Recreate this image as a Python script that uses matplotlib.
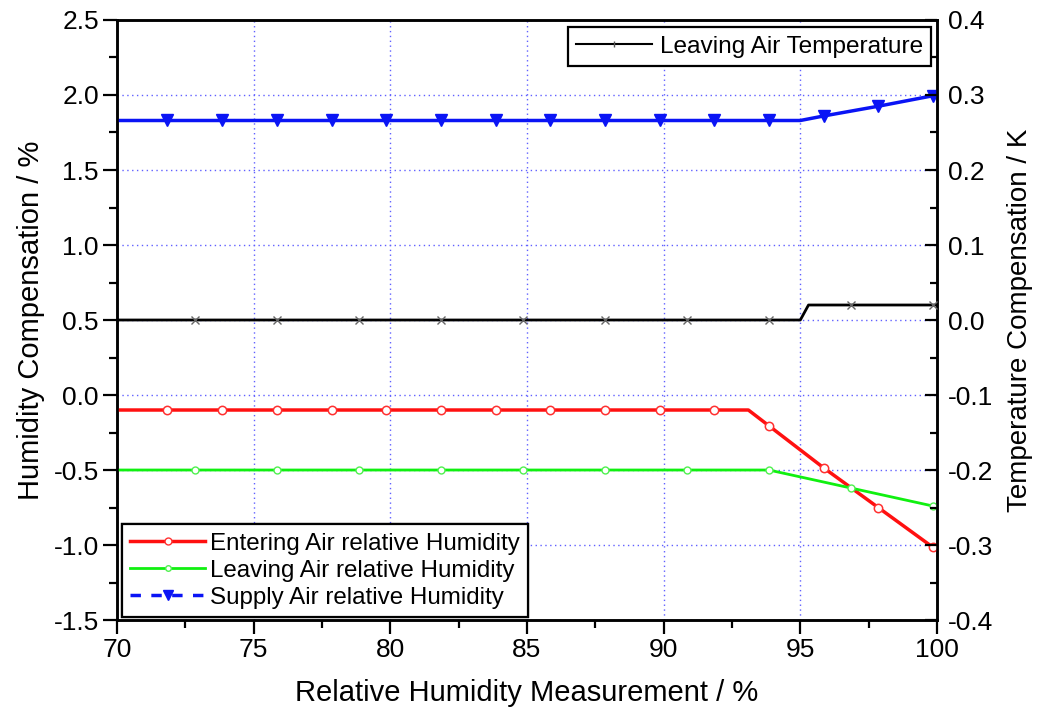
import matplotlib.pyplot as plt
from matplotlib.lines import Line2D
from matplotlib.ticker import MultipleLocator

plt.rcParams['font.family'] = ['Liberation Sans', 'DejaVu Sans']

# Supply air RH compensation (%), markers every 2 %
supply_x = [70, 71.85, 73.85, 75.85, 77.85, 79.85, 81.85, 83.85, 85.85, 87.85,
            89.85, 91.85, 93.85, 95.0, 95.85, 97.85, 99.85, 100]
supply_y = [1.83, 1.83, 1.83, 1.83, 1.83, 1.83, 1.83, 1.83, 1.83, 1.83,
            1.83, 1.83, 1.83, 1.83, 1.86, 1.925, 1.995, 2.0]
supply_marks = [1, 2, 3, 4, 5, 6, 7, 8, 9, 10, 11, 12, 14, 15, 16]

# Entering air RH compensation (%)
entering_x = [70, 71.85, 73.85, 75.85, 77.85, 79.85, 81.85, 83.85, 85.85, 87.85,
              89.85, 91.85, 93.1, 93.85, 95.85, 97.85, 99.85, 100]
entering_y = [-0.1, -0.1, -0.1, -0.1, -0.1, -0.1, -0.1, -0.1, -0.1, -0.1,
              -0.1, -0.1, -0.1, -0.205, -0.485, -0.75, -1.015, -1.03]
entering_marks = [1, 2, 3, 4, 5, 6, 7, 8, 9, 10, 11, 13, 14, 15, 16]

# Leaving air RH compensation (%), markers every 3 %
leaving_x = [70, 72.85, 75.85, 78.85, 81.85, 84.85, 87.85, 90.85, 93.85,
             96.85, 99.85, 100]
leaving_y = [-0.5, -0.5, -0.5, -0.5, -0.5, -0.5, -0.5, -0.5, -0.5,
             -0.62, -0.74, -0.745]
leaving_marks = [1, 2, 3, 4, 5, 6, 7, 8, 9, 10]

# Leaving air temperature compensation (K)
temp_x = [70, 72.85, 75.85, 78.85, 81.85, 84.85, 87.85, 90.85, 93.85,
          95.0, 95.3, 96.85, 99.85, 100]
temp_y = [0.0, 0.0, 0.0, 0.0, 0.0, 0.0, 0.0, 0.0, 0.0,
          0.0, 0.02, 0.02, 0.02, 0.02]
temp_marks = [1, 2, 3, 4, 5, 6, 7, 8, 11, 12]

fig = plt.figure(figsize=(10.44, 7.09), dpi=100)
ax = fig.add_axes([0.112, 0.1255, 0.7855, 0.8463])
ax2 = ax.twinx()

ax.set_xlim(70, 100)
ax.set_ylim(-1.5, 2.5)
ax2.set_ylim(-0.4, 0.4)

ax.xaxis.set_major_locator(MultipleLocator(5))
ax.xaxis.set_minor_locator(MultipleLocator(2.5))
ax.yaxis.set_major_locator(MultipleLocator(0.5))
ax.yaxis.set_minor_locator(MultipleLocator(0.25))
ax2.yaxis.set_major_locator(MultipleLocator(0.1))
ax2.yaxis.set_minor_locator(MultipleLocator(0.05))

ax.grid(True, which='major', color='#6060ff', linestyle=(0, (1, 2.5)), linewidth=1.0)

ax.tick_params(axis='both', which='major', direction='out', length=10, width=1.6,
               labelsize=19, pad=3, top=False, right=False)
ax.tick_params(axis='both', which='minor', direction='out', length=6, width=1.6)
ax2.tick_params(axis='y', which='major', direction='in', length=9, width=1.6,
                labelsize=19, pad=8)
ax2.tick_params(axis='y', which='minor', direction='in', length=5, width=1.6)
ax.yaxis.set_major_formatter(plt.FormatStrFormatter('%.1f'))
ax2.yaxis.set_major_formatter(plt.FormatStrFormatter('%.1f'))

for a in (ax, ax2):
    for s in a.spines.values():
        s.set_linewidth(1.8)

ax.plot(entering_x, entering_y, color='#ff1010', lw=2.5, marker='o', ms=6,
        mfc='white', mec='#ff3030', mew=1.1, markevery=entering_marks, zorder=4)
ax.plot(leaving_x, leaving_y, color='#10f010', lw=2.0, marker='o', ms=5,
        mfc='white', mec='#50f050', mew=1.0, markevery=leaving_marks, zorder=4)
ax.plot(supply_x, supply_y, color='#0a14f5', lw=2.5, marker='v', ms=8,
        markevery=supply_marks, zorder=4)
ax2.plot(temp_x, temp_y, color='black', lw=2.0, marker='x', ms=6, mec='#666666',
         mew=1.0, markevery=temp_marks, zorder=4)

ax.set_xlabel('Relative Humidity Measurement / %', fontsize=21, labelpad=12)
ax.set_ylabel('Humidity Compensation / %', fontsize=21, labelpad=6)
ax2.set_ylabel('Temperature Compensation / K', fontsize=20, labelpad=10)

rh_handles = [
    Line2D([], [], color='#ff1010', lw=2.5, marker='o', ms=5, mfc='white', mec='#ff3030'),
    Line2D([], [], color='#10f010', lw=2.0, marker='o', ms=4, mfc='white', mec='#50f050'),
    Line2D([], [], color='#0a14f5', lw=2.5, ls=(0, (3, 3)), marker='v', ms=7),
]
rh_labels = ['Entering Air relative Humidity', 'Leaving Air relative Humidity',
             'Supply Air relative Humidity']
leg1 = ax.legend(rh_handles, rh_labels, loc='lower left', bbox_to_anchor=(0.006, 0.005),
                 borderaxespad=0, fontsize=17.4, handlelength=3.1, handletextpad=0.2,
                 labelspacing=0.2, fancybox=False, framealpha=1, edgecolor='black',
                 borderpad=0.35)
leg1.get_frame().set_linewidth(1.6)
ax.add_artist(leg1)

temp_handle = Line2D([], [], color='black', lw=1.5, marker='|', ms=5, mec='#555555')
leg2 = ax2.legend([temp_handle], ['Leaving Air Temperature'], loc='upper right',
                  bbox_to_anchor=(0.993, 0.988), borderaxespad=0, fontsize=17.6,
                  handlelength=3.1, handletextpad=0.3, fancybox=False, framealpha=1,
                  edgecolor='black', borderpad=0.35)
leg2.get_frame().set_linewidth(1.6)

fig.savefig('out.png', dpi=100)
